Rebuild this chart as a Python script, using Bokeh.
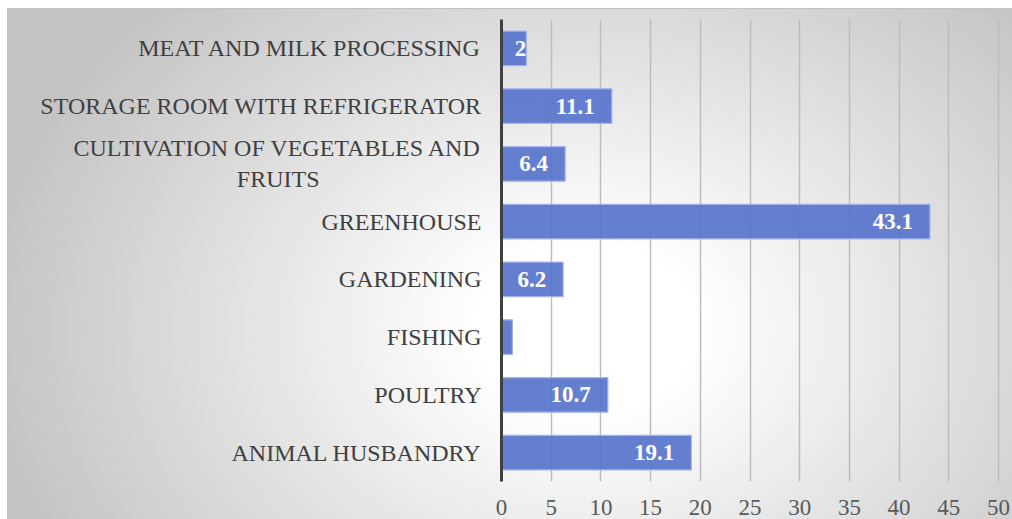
from bokeh.plotting import figure
from bokeh.models import ColumnDataSource, Range1d, FactorRange, FixedTicker
from bokeh.core.properties import value
from bokeh.embed import file_html
from bokeh.resources import INLINE

NB = "\u00a0"
categories = [
    "MEAT AND MILK PROCESSING",
    "STORAGE ROOM WITH REFRIGERATOR",
    "CULTIVATION OF VEGETABLES AND\nFRUITS" + NB * 27,
    "GREENHOUSE",
    "GARDENING",
    "FISHING",
    "POULTRY",
    "ANIMAL HUSBANDRY",
]
values = [2.5, 11.1, 6.4, 43.1, 6.2, 1.1, 10.7, 19.1]
labels = ["2", "11.1", "6.4", "43.1", "6.2", "", "10.7", "19.1"]
x_ticks = [0, 5, 10, 15, 20, 25, 30, 35, 40, 45, 50]

SERIF = "'Liberation Serif', 'Times New Roman', serif"

src = ColumnDataSource(dict(
    cat=categories,
    val=values,
    lab=labels,
    off=[0 if v < 5 else -17 for v in values],
))

p = figure(
    width=1012, height=519,
    y_range=FactorRange(factors=list(reversed(categories))),
    x_range=Range1d(0, 50.5),
    output_backend="svg", toolbar_location=None,
    min_border_left=501, min_border_top=19, min_border_right=9, min_border_bottom=38,
)
p.background_fill_color = None
p.border_fill_color = None
p.outline_line_color = None
p.styles = {
    "background": (
        "linear-gradient(#c2c2c2,#c2c2c2) 7px 8px / 1005px 1px no-repeat, "
        "linear-gradient(#c2c2c2,#c2c2c2) 7px 8px / 1px 511px no-repeat, "
        "radial-gradient(ellipse 600px 460px at 580px 320px, #ffffff 0%, #ffffff 18%, #c4c4c4 100%) "
        "7px 8px / 1005px 511px no-repeat, #ffffff"
    )
}

p.hbar(y="cat", right="val", left=0, height=0.6, source=src,
       fill_color="#5874cc", fill_alpha=0.92, line_color="#a3b3ea", line_width=1.2)

p.text(x="val", y="cat", text="lab", source=src, x_offset="off",
       text_align="right", text_baseline="middle", text_color="white",
       text_font=value(SERIF), text_font_style="bold", text_font_size="23px")

# grid
p.ygrid.grid_line_color = None
p.xgrid.grid_line_color = "#bcbcbc"
p.xgrid.grid_line_width = 1.5
p.xaxis.ticker = FixedTicker(ticks=x_ticks)

# x axis
p.xaxis.axis_line_color = None
p.xaxis.major_tick_line_color = None
p.xaxis.minor_tick_line_color = None
p.xaxis.major_label_text_font = SERIF
p.xaxis.major_label_text_font_size = "23px"
p.xaxis.major_label_text_color = "#595959"
p.xaxis.major_label_standoff = 12

# y axis
p.yaxis.axis_line_color = "#404040"
p.yaxis.axis_line_width = 3
p.yaxis.major_tick_line_color = None
p.yaxis.minor_tick_line_color = None
p.yaxis.major_label_text_font = SERIF
p.yaxis.major_label_text_font_size = "24px"
p.yaxis.major_label_text_color = "#404040"
p.yaxis.major_label_standoff = 14
p.yaxis.major_label_text_line_height = 1.2

open("out.html", "w").write(file_html(p, INLINE))
